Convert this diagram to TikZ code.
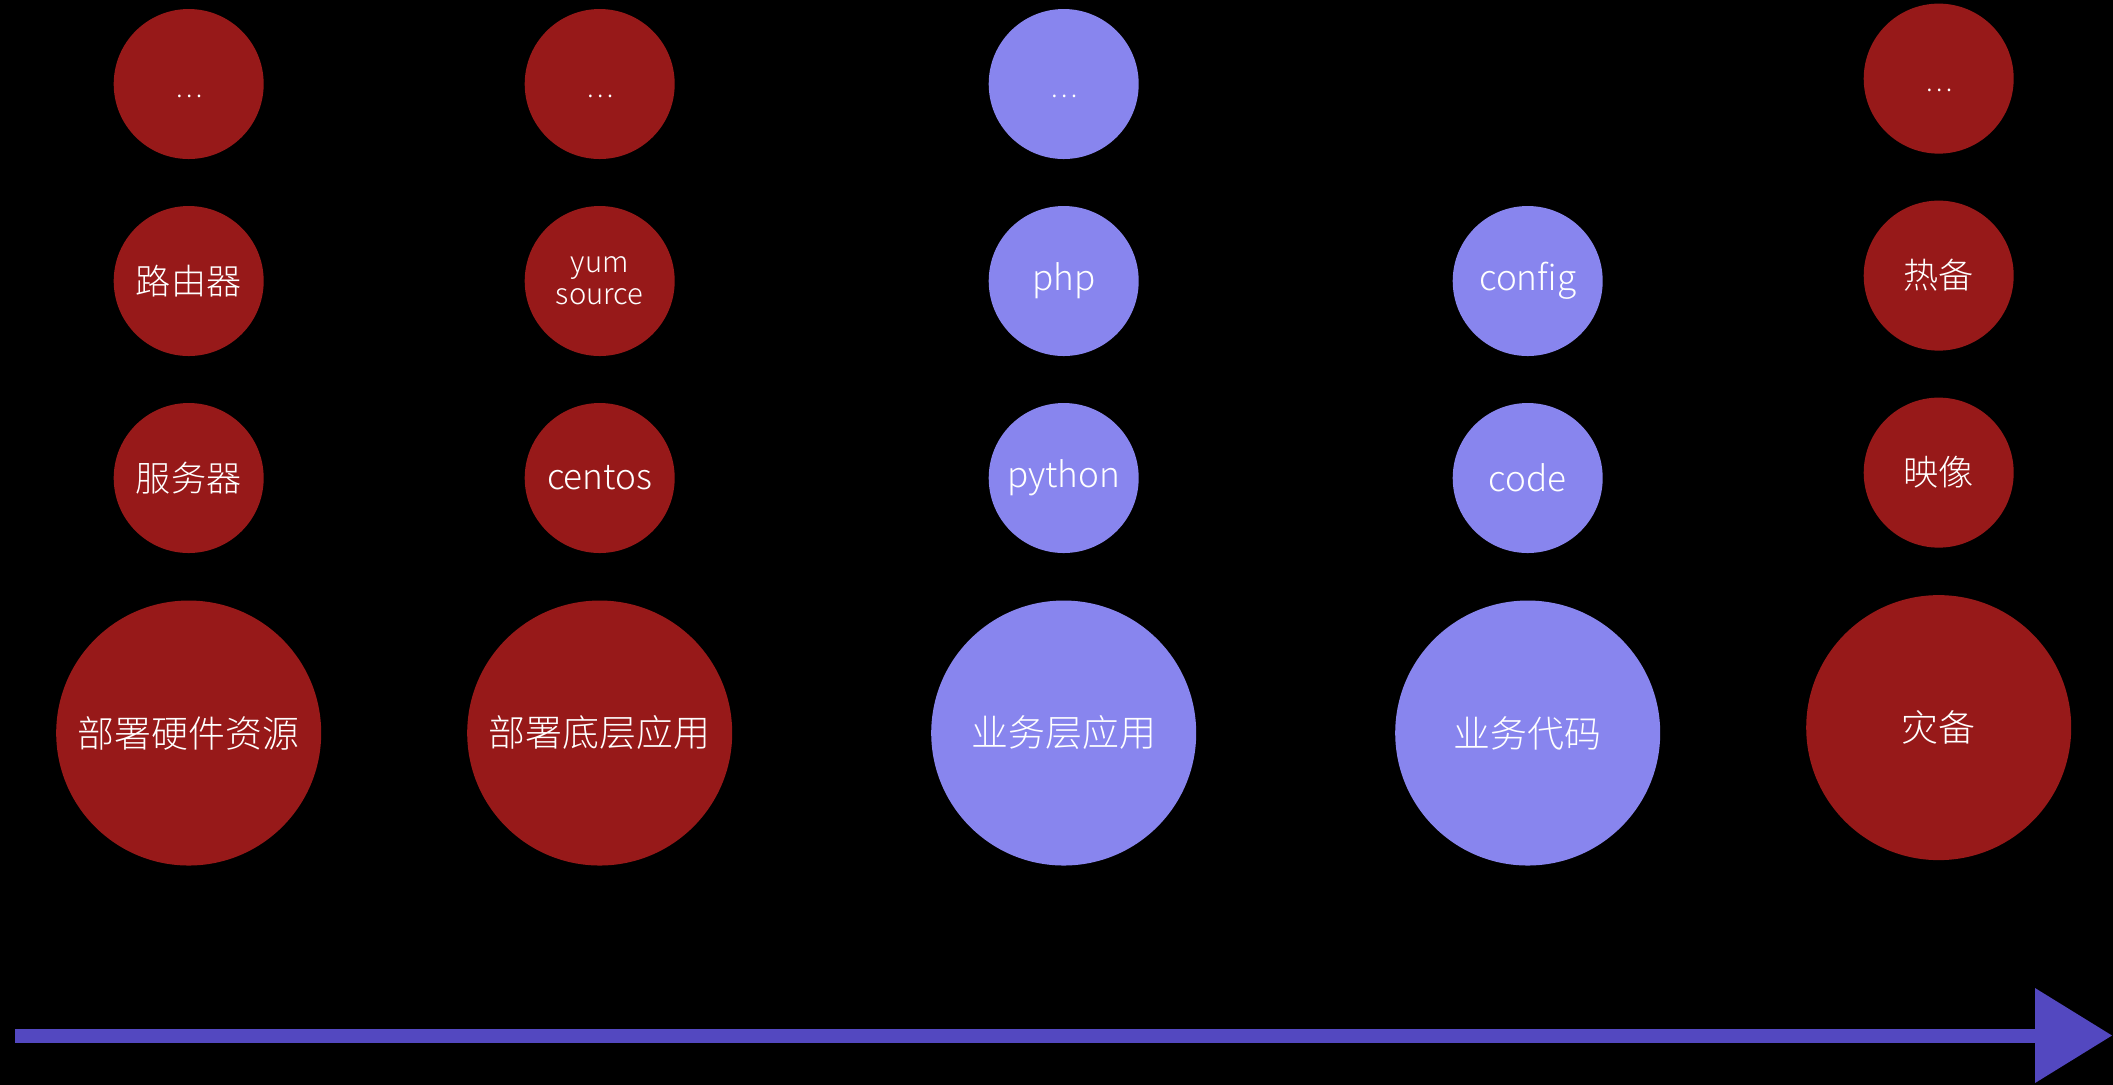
\documentclass[tikz,border=0pt]{standalone}
\usepackage{fontspec}
\setmainfont{Noto Sans CJK SC}[UprightFont={* Light}]
\usetikzlibrary{arrows.meta}
\definecolor{opsred}{RGB}{151,25,25}
\definecolor{devblue}{RGB}{136,133,238}
\definecolor{flowblue}{RGB}{83,72,192}
\tikzset{
    stage/.style = {circle, minimum size=2.65cm, inner sep=0pt,
        text=white, font=\fontsize{10.5}{12}\selectfont},
    item/.style = {circle, minimum size=1.5cm, inner sep=0pt,
        text=white, font=\fontsize{10}{12}\selectfont, align=center},
    ops/.style = {fill=opsred},
    dev/.style = {fill=devblue},
    more/.style = {font=\fontsize{7.5}{8}\selectfont, text height=2.6mm, text depth=0pt},
    twoline/.style = {font=\fontsize{8.3}{9}\selectfont},
    arrow/.style = {draw=flowblue, line width=1.4mm,
        -{Triangle[length=7.7mm,width=9.5mm,line width=0pt]}}
}

\begin{document}
\begin{tikzpicture}[node distance=1.97cm]
        \useasboundingbox (0,0) rectangle (21.13,-10.84);
        \fill [black] (-0.1,0.1) rectangle (21.23,-10.94);
        % bottom row
        \node [stage, ops] (hw) at (1.887,-7.33) {部署硬件资源};
        \node [stage, ops, right of=hw, node distance=4.11cm] (base) {部署底层应用};
        \node [stage, dev, right of=base, node distance=4.64cm] (svc) {业务层应用};
        \node [stage, dev, right of=svc, node distance=4.64cm] (code) {业务代码};
        \node [stage, ops, right of=code, node distance=4.11cm, yshift=0.54mm] (dr) {灾备};
        % stacks
        \node [item, ops, above of=hw, node distance=2.55cm] (server) {服务器};
        \node [item, ops, above of=server] (router) {路由器};
        \node [item, ops, more, above of=router] (hwmore) {\ldots};
        \node [item, ops, above of=base, node distance=2.55cm] (centos) {centos};
        \node [item, ops, twoline, above of=centos] (yum) {yum\\source};
        \node [item, ops, more, above of=yum] (basemore) {\ldots};
        \node [item, dev, above of=svc, node distance=2.55cm] (python) {python};
        \node [item, dev, above of=python] (php) {php};
        \node [item, dev, more, above of=php] (svcmore) {\ldots};
        \node [item, dev, above of=code, node distance=2.55cm] (src) {code};
        \node [item, dev, above of=src] (config) {config};
        \node [item, ops, above of=dr, node distance=2.55cm] (image) {映像};
        \node [item, ops, above of=image] (standby) {热备};
        \node [item, ops, more, above of=standby] (drmore) {\ldots};
        % time line
        \coordinate (start) at (0.148,-10.355);
        \coordinate (stop) at (21.12,-10.355);
        \draw [arrow] (start) -- (stop);
\end{tikzpicture}
\end{document}
